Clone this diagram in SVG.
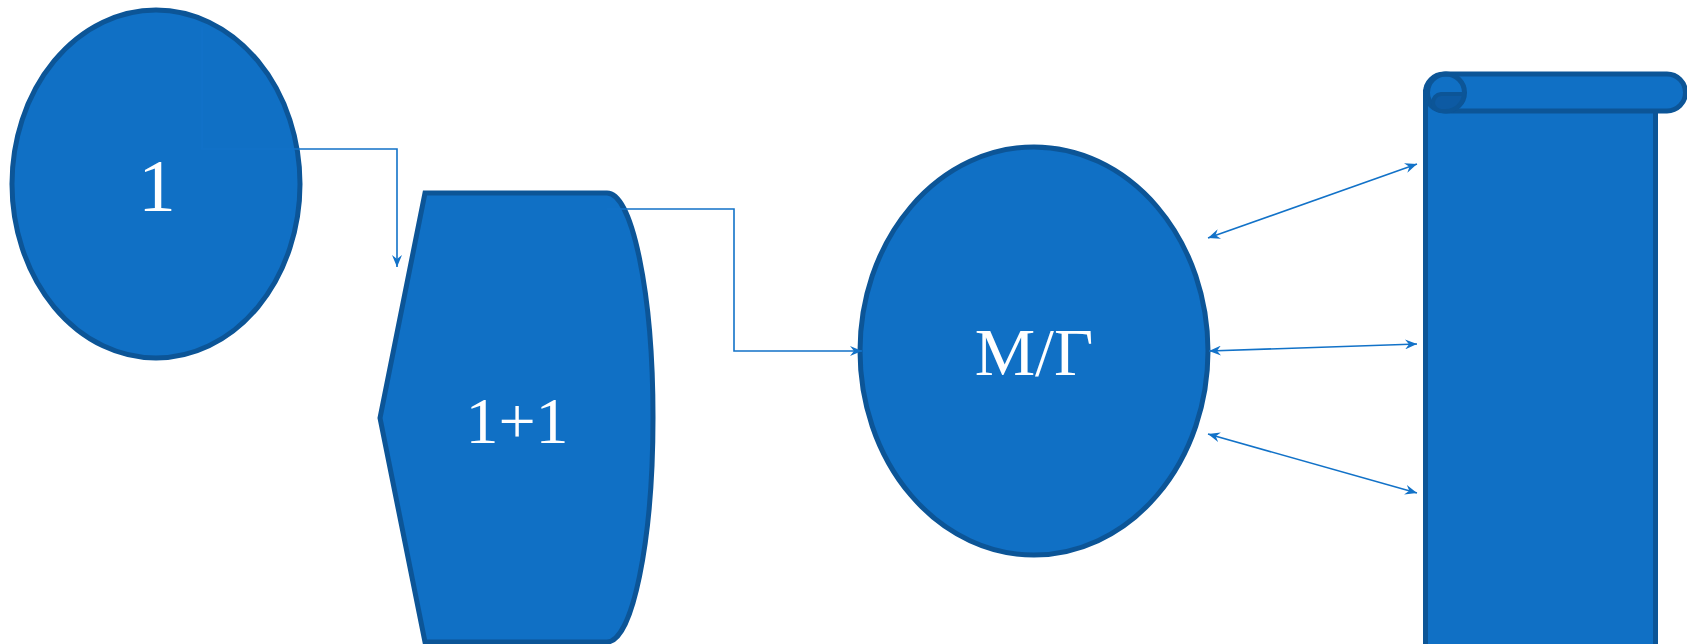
<svg xmlns="http://www.w3.org/2000/svg" width="1687" height="644" viewBox="0 0 1687 644">
  <style>
    .node { fill: #1070c5; stroke: #0c5597; stroke-width: 5; }
    .lbl { fill: #ffffff; font-family: "Liberation Serif", "Times New Roman", serif; text-anchor: middle; }
    .conn { fill: none; stroke: #1272c8; stroke-width: 1.6; }
  </style>
  <defs>
    <marker id="ah" viewBox="0 0 12 10" refX="12" refY="5" markerWidth="12" markerHeight="10" markerUnits="userSpaceOnUse" orient="auto-start-reverse">
      <path d="M0,0 L12,5 L0,10 L4,5 Z" fill="#1272c8"/>
    </marker>
  </defs>
  <rect width="1687" height="644" fill="#ffffff"/>

  <g id="node-1">
    <ellipse class="node" cx="156" cy="184" rx="144" ry="174"/>
    <text class="lbl" x="157" y="211" font-size="75">1</text>
  </g>

  <g id="node-2">
    <path class="node" d="M380,418 L425,193 L607,193 A46,224.5 0 0 1 607,642 L425,642 Z"/>
    <text class="lbl" x="517" y="443" font-size="66">1+1</text>
  </g>

  <g id="node-3">
    <ellipse class="node" cx="1034" cy="351" rx="174" ry="204"/>
    <text class="lbl" x="1034" y="375" font-size="68">М/Г</text>
  </g>

  <g id="node-4">
    <rect class="node" x="1425.5" y="92" width="230" height="620"/>
    <rect class="node" x="1425.5" y="74" width="260" height="37" rx="18.5" ry="18.5"/>
    <circle cx="1446" cy="92.5" r="18.5" fill="none" stroke="#0c5597" stroke-width="5"/>
    <path d="M1441,94 H1464 A18.5,18.5 0 0 1 1446,111 H1442 A8.5,8.5 0 0 1 1441,94 Z" fill="#0d5aa3" stroke="#0c5597" stroke-width="4"/>
  </g>

  <g id="connectors">
    <path class="conn" d="M202,27 V149 H397 V267" marker-end="url(#ah)"/>
    <path class="conn" d="M607,209 H734 V351 H862" marker-end="url(#ah)"/>
    <path class="conn" d="M1208,238 L1417,164" marker-start="url(#ah)" marker-end="url(#ah)"/>
    <path class="conn" d="M1209,351 L1417,344" marker-start="url(#ah)" marker-end="url(#ah)"/>
    <path class="conn" d="M1208,434 L1417,493" marker-start="url(#ah)" marker-end="url(#ah)"/>
  </g>
</svg>
